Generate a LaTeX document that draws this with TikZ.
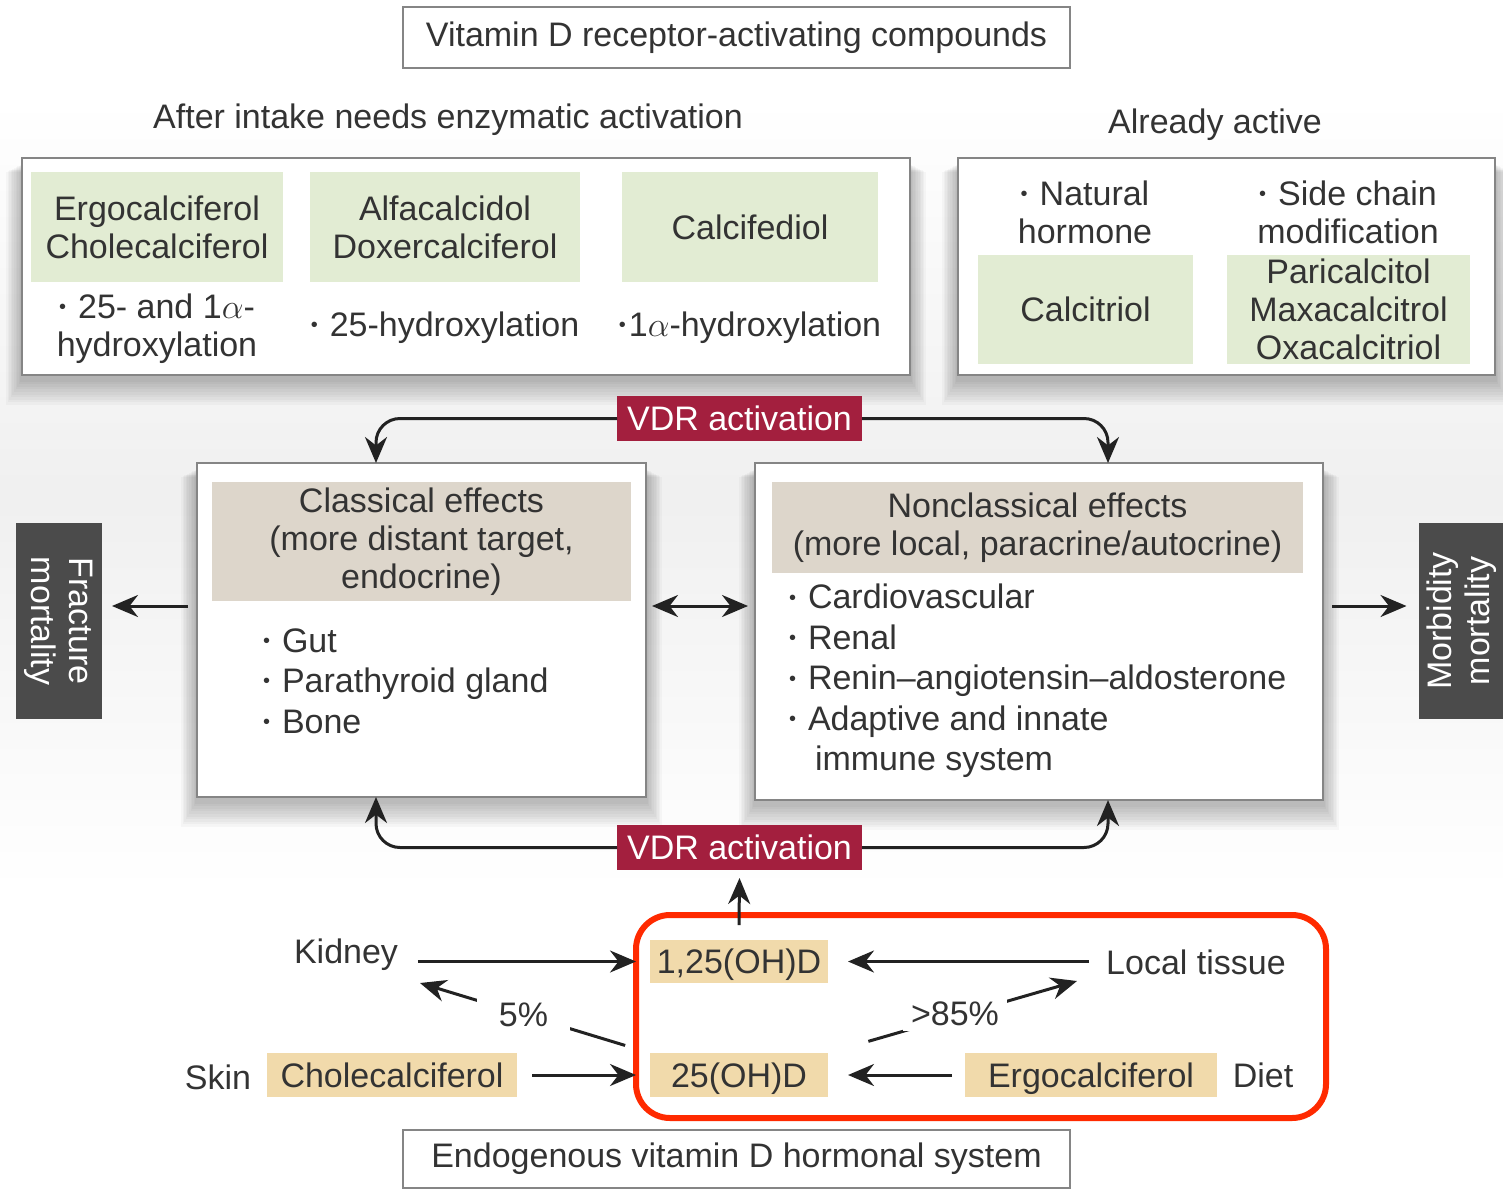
\documentclass[tikz,border=0pt]{standalone}
\usepackage{fontspec}
\setmainfont{Liberation Sans}
\usetikzlibrary{arrows.meta,calc,shadings}
\definecolor{txtc}{HTML}{333333}
\definecolor{boxline}{HTML}{858585}
\definecolor{greenc}{HTML}{E2ECD3}
\definecolor{beigec}{HTML}{DDD6CB}
\definecolor{tanc}{HTML}{F1DAAB}
\definecolor{vdrc}{HTML}{A31F3E}
\definecolor{darkc}{HTML}{4B4B4B}
\definecolor{redc}{HTML}{FF2A00}
\definecolor{arrc}{HTML}{222222}
\newcommand{\bul}{\makebox[9.5pt][l]{\raisebox{2.4pt}{\fontsize{10}{10}\selectfont\textbullet}}}
\newcommand{\bult}{\makebox[5pt][l]{\raisebox{2.4pt}{\fontsize{10}{10}\selectfont\textbullet}}}
\newcommand{\softshadow}[4]{%
  \foreach \s in {1,...,10}{%
    \fill[black,opacity=0.028] (#1-\s*1.6, #2+6+\s*0.8) rectangle (#3+\s*1.6, #4+4+\s*2.6);
  }}
\begin{document}
\begin{tikzpicture}[x=0.5pt,y=-0.5pt,
  every node/.style={inner sep=0pt, outer sep=0pt, text=txtc, font=\fontsize{17}{19}\selectfont, align=center},
  framebox/.style={draw=boxline, line width=1.1pt, fill=white},
  greenbox/.style={fill=greenc},
  hdrbox/.style={fill=beigec},
  tanbox/.style={fill=tanc, text height=12.2pt, text depth=0pt},
  vdrbox/.style={fill=vdrc, text=white, minimum width=122.5pt, minimum height=22.5pt, text height=12.2pt, text depth=0pt},
  darkbox/.style={fill=darkc, text=white, minimum width=98pt, minimum height=43pt},
  arr/.style={draw=arrc, line width=1.5pt, -{Stealth[length=13pt,width=11pt]}},
  dbl/.style={draw=arrc, line width=1.5pt, {Stealth[length=13pt,width=11pt]}-{Stealth[length=13pt,width=11pt]}},
  listtext/.style={anchor=west, align=left, font=\fontsize{17}{20.25}\selectfont}
]
\useasboundingbox (0,0) rectangle (1503,1189);
\fill[white] (0,0) rectangle (1503,1189);
\shade[top color=white, bottom color=white, middle color=black!6] (0,100) rectangle (1503,890);

% shadows
\softshadow{22}{158}{910}{375}
\softshadow{958}{158}{1495}{375}
\softshadow{197}{463}{646}{797}
\softshadow{755}{463}{1323}{800}

% top title
\node[framebox, minimum width=333.5pt, minimum height=30.5pt] (title) at (736.5,37.5) {Vitamin D receptor-activating compounds};
\node (needs) at (448,120) {After intake needs enzymatic activation};
\node (active) at (1215,125) {Already active};

% left top box
\node[framebox, minimum width=444pt, minimum height=108.5pt] (leftbox) at (466,266.5) {};
\node[greenbox, minimum width=126pt, minimum height=55pt] (g1) at (157,227) {Ergocalciferol\\Cholecalciferol};
\node[greenbox, minimum width=135pt, minimum height=55pt] (g2) at (445,227) {Alfacalcidol\\Doxercalciferol};
\node[greenbox, minimum width=128pt, minimum height=55pt] (g3) at (750,227) {Calcifediol};
\node (h1) at (157,329) {\bul 25- and 1$\alpha$-\\hydroxylation};
\node (h2) at (445,328) {\bul 25-hydroxylation};
\node (h3) at (750,328) {\bult 1$\alpha$-hydroxylation};

% right top box
\node[framebox, minimum width=268.5pt, minimum height=108.5pt] (rightbox) at (1226.5,266.5) {};
\node (nat) at (1085,212) {\bul Natural\\hormone};
\node (side) at (1348,212) {\bul Side chain\\modification};
\node[greenbox, minimum width=107.5pt, minimum height=54.5pt] (g4) at (1085.5,309.5) {Calcitriol};
\node[greenbox, minimum width=121.5pt, minimum height=54.5pt] (g5) at (1348.5,309.5) {Paricalcitol\\Maxacalcitrol\\Oxacalcitriol};

% middle
\node[vdrbox] (vdr1) at (739.5,418.5) {VDR activation};
\node[framebox, minimum width=224.5pt, minimum height=167pt] (classical) at (421.5,630) {};
\node[hdrbox, minimum width=209.5pt, minimum height=59.5pt] (chdr) at (421.5,541.5) {Classical effects\\(more distant target,\\endocrine)};
\node[listtext] (clist) at (263,681) {\bul Gut\\\bul Parathyroid gland\\\bul Bone};
\node[framebox, minimum width=284pt, minimum height=168.5pt] (nonclass) at (1039,631.5) {};
\node[hdrbox, minimum width=265.5pt, minimum height=45.5pt] (nhdr) at (1037.5,527.5) {Nonclassical effects\\(more local, paracrine/autocrine)};
\node[listtext] (nlist) at (789,681) {\bul Cardiovascular\\\bul Renal\\\bul Renin--angiotensin--aldosterone\\\bul Adaptive and innate\\\hspace*{13pt}immune system};

\node[darkbox, rotate=-90] (fract) at (59,621) {Fracture\\mortality};
\node[darkbox, rotate=90] (morb) at (1461.5,621) {Morbidity\\mortality};

\draw[arr, rounded corners=12pt] (vdr1.west) -| ([xshift=-22.75pt]classical.north);
\draw[arr, rounded corners=12pt] (vdr1.east) -| ([xshift=34.5pt]nonclass.north);

\draw[arr, shorten <=4.5pt, shorten >=5pt] ([yshift=12pt]classical.west) -- ([yshift=12pt]classical.west -| fract.north);
\draw[dbl, shorten <=3pt, shorten >=3.5pt] ([yshift=12pt]classical.east) -- ([yshift=12pt]classical.east -| nonclass.west);
\draw[arr, shorten <=4.5pt, shorten >=6pt] ([yshift=12.75pt]nonclass.east) -- ([yshift=12.75pt]nonclass.east -| morb.north);

\node[vdrbox] (vdr2) at (739.5,847.5) {VDR activation};
\draw[arr, rounded corners=12pt] (vdr2.west) -| ([xshift=-22.75pt]classical.south);
\draw[arr, rounded corners=12pt] (vdr2.east) -| ([xshift=34.5pt]nonclass.south);

% bottom system
\draw[redc, line width=3pt, rounded corners=17pt] (636,915) rectangle (1326,1118);
\node[tanbox, minimum width=89pt, minimum height=21.5pt] (oh125) at (739,961.5) {1,25(OH)D};
\node[tanbox, minimum width=89pt, minimum height=22pt] (oh25) at (739,1075) {25(OH)D};
\node[tanbox, minimum width=125pt, minimum height=22pt] (chole) at (392,1075) {Cholecalciferol};
\node[tanbox, minimum width=126pt, minimum height=22pt] (ergo) at (1091,1075) {Ergocalciferol};
\node (skin) at (218,1077) {Skin};
\node (diet) at (1263,1075) {Diet};
\node (kidney) at (346,955) {Kidney};
\node (local) at (1196,962) {Local tissue};
\coordinate (kin) at (420,983);
\coordinate (lin) at (1077,981);

\draw[arr, shorten <=10pt, shorten >=7pt] (kidney.east |- oh125.west) -- (oh125.west);
\draw[arr, shorten <=8.5pt, shorten >=10pt] (local.west |- oh125.east) -- (oh125.east);
\draw[arr, shorten <=7.5pt, shorten >=7pt] (chole.east) -- (oh25.west);
\draw[arr, shorten <=6.5pt, shorten >=10pt] (ergo.west) -- (oh25.east);
\draw[arr, shorten <=13pt] (oh25.north west) -- node[pos=0.55, fill=white, inner xsep=11pt, inner ysep=3pt] (p5) {5\%} (kin);
\draw[arr, shorten <=21pt] (oh25.north east) -- node[pos=0.51, fill=white, inner xsep=4pt, inner ysep=3pt, yshift=1.5pt] (p85) {>85\%} (lin);
\draw[arr] ([yshift=7.5pt]oh125.north) -- ([yshift=-4pt]vdr2.south);

\node[framebox, minimum width=333.5pt, minimum height=29pt] (endo) at (736.5,1159) {Endogenous vitamin D hormonal system};
\end{tikzpicture}
\end{document}
